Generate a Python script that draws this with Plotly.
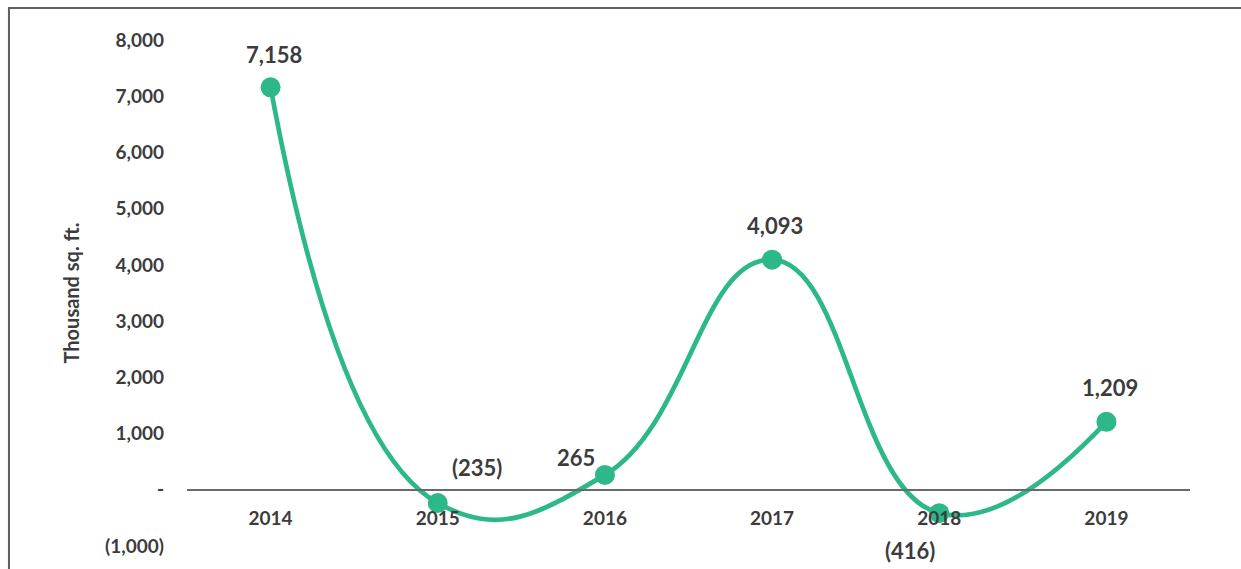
import plotly.graph_objects as go

# Net absorption by year (thousand sq. ft.)
years = ["2014", "2015", "2016", "2017", "2018", "2019"]
net_absorption = [7158, -235, 265, 4093, -416, 1209]
value_labels = ["7,158", "(235)", "265", "4,093", "(416)", "1,209"]

y_tick_values = [-1000, 0, 1000, 2000, 3000, 4000, 5000, 6000, 7000, 8000]
y_tick_labels = ["(1,000)", "-", "1,000", "2,000", "3,000", "4,000",
                 "5,000", "6,000", "7,000", "8,000"]

# pixel offsets of each value label from its marker
label_offsets = [(3, 33), (39, 35), (-29, 17), (3, 34), (-29, -37), (4, 34)]

GREEN = "#2db88a"
TEXT = "#3c3c3c"
FONT = "Lato"

fig = go.Figure()
fig.add_trace(go.Scatter(
    x=years,
    y=net_absorption,
    mode="lines+markers",
    line=dict(color=GREEN, width=4.7, shape="spline", smoothing=1.3),
    marker=dict(color=GREEN, size=20),
    hoverinfo="skip",
    showlegend=False,
))

for i, (val, txt, (dx, dy)) in enumerate(zip(net_absorption, value_labels, label_offsets)):
    fig.add_annotation(
        x=i, y=val, xref="x", yref="y",
        text=f"<b>{txt}</b>", showarrow=False,
        xshift=dx, yshift=dy,
        font=dict(family=FONT, size=22, color=TEXT),
    )

# chart frame
fig.add_shape(
    type="rect", xref="paper", yref="paper",
    x0=-0.1775, x1=1.2, y0=-0.2, y1=1.063,
    line=dict(color="#5f5f5f", width=2), layer="below",
)

fig.update_layout(
    width=1241, height=569,
    margin=dict(l=187, r=51, t=40, b=21),
    paper_bgcolor="white", plot_bgcolor="white",
    font=dict(family=FONT, color=TEXT),
    xaxis=dict(
        type="category",
        range=[-0.5, 5.5],
        anchor="free", position=1000 / 9000,
        showline=True, linecolor="#6a6a6a", linewidth=1.5,
        showgrid=False, zeroline=False, ticks="",
        tickfont=dict(family=FONT, size=19, color=TEXT),
        ticklabelstandoff=12,
        tickprefix="<b>", ticksuffix="</b>",
    ),
    yaxis=dict(
        range=[-1000, 8000],
        tickvals=y_tick_values,
        ticktext=[f"<b>{t}</b>" for t in y_tick_labels],
        showgrid=False, zeroline=False, showline=False, ticks="",
        tickfont=dict(family=FONT, size=19, color=TEXT),
        ticklabelstandoff=22,
        title=dict(text="<b>Thousand sq. ft.</b>",
                   font=dict(family=FONT, size=20, color=TEXT),
                   standoff=20),
    ),
)

fig.write_html("out.html")
